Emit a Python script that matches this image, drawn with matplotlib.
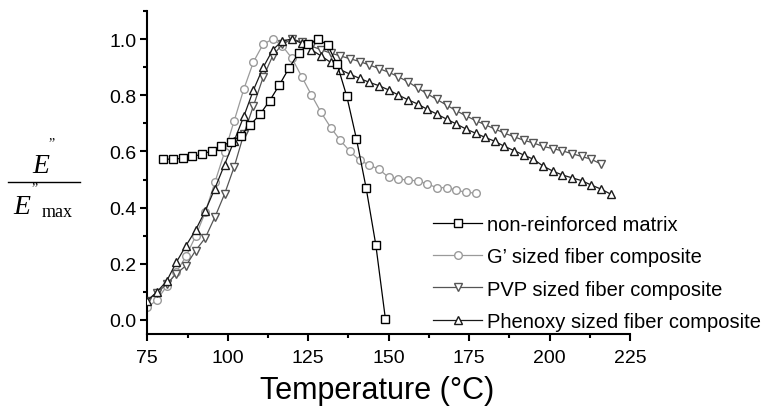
import matplotlib
matplotlib.use("Agg")
import matplotlib.pyplot as plt
from matplotlib.ticker import MultipleLocator
from matplotlib.lines import Line2D

plt.rcParams['font.family'] = ['Liberation Sans', 'DejaVu Sans']

# non-reinforced matrix (squares)
temp_matrix = [80, 83, 86, 89, 92, 95, 98, 101, 104, 107, 110, 113, 116, 119,
               122, 125, 128, 131, 134, 137, 140, 143, 146, 149]
e_matrix = [0.573, 0.572, 0.576, 0.582, 0.590, 0.602, 0.618, 0.635, 0.656, 0.694,
            0.732, 0.780, 0.836, 0.896, 0.950, 0.982, 1.000, 0.979, 0.910, 0.796,
            0.644, 0.470, 0.268, 0.003]

# G' sized fiber composite (circles)
temp_g = [75, 78, 81, 84, 87, 90, 93, 96, 99, 102, 105, 108, 111, 114, 117, 120,
          123, 126, 129, 132, 135, 138, 141, 144, 147, 150, 153, 156, 159, 162,
          165, 168, 171, 174, 177]
e_g = [0.045, 0.071, 0.120, 0.170, 0.226, 0.298, 0.383, 0.490, 0.597, 0.709,
       0.822, 0.919, 0.982, 1.000, 0.975, 0.931, 0.866, 0.801, 0.739, 0.685,
       0.639, 0.600, 0.568, 0.552, 0.536, 0.508, 0.503, 0.497, 0.496, 0.484,
       0.471, 0.471, 0.463, 0.454, 0.452]

# PVP sized fiber composite (down triangles)
temp_pvp = [75, 78, 81, 84, 87, 90, 93, 96, 99, 102, 105, 108, 111, 114, 117, 120,
            123, 126, 129, 132, 135, 138, 141, 144, 147, 150, 153, 156, 159, 162,
            165, 168, 171, 174, 177, 180, 183, 186, 189, 192, 195, 198, 201, 204,
            207, 210, 213, 216]
e_pvp = [0.069, 0.097, 0.127, 0.165, 0.193, 0.247, 0.292, 0.366, 0.448, 0.545,
         0.662, 0.763, 0.864, 0.941, 0.982, 1.000, 0.990, 0.975, 0.962, 0.950,
         0.940, 0.930, 0.920, 0.908, 0.895, 0.882, 0.866, 0.848, 0.826, 0.805,
         0.785, 0.765, 0.745, 0.727, 0.710, 0.695, 0.680, 0.665, 0.652, 0.640,
         0.630, 0.618, 0.610, 0.602, 0.592, 0.582, 0.572, 0.555]

# Phenoxy sized fiber composite (up triangles)
temp_phx = [75, 78, 81, 84, 87, 90, 93, 96, 99, 102, 105, 108, 111, 114, 117, 120,
            123, 126, 129, 132, 135, 138, 141, 144, 147, 150, 153, 156, 159, 162,
            165, 168, 171, 174, 177, 180, 183, 186, 189, 192, 195, 198, 201, 204,
            207, 210, 213, 216, 219]
e_phx = [0.069, 0.100, 0.138, 0.205, 0.264, 0.320, 0.388, 0.468, 0.553, 0.638,
         0.725, 0.819, 0.899, 0.962, 0.994, 1.000, 0.985, 0.962, 0.940, 0.917,
         0.891, 0.875, 0.860, 0.846, 0.834, 0.819, 0.801, 0.784, 0.769, 0.750,
         0.733, 0.715, 0.698, 0.680, 0.665, 0.650, 0.636, 0.618, 0.603, 0.587,
         0.572, 0.548, 0.530, 0.516, 0.506, 0.496, 0.480, 0.466, 0.448]

labels = ["non-reinforced matrix", "G\u2019 sized fiber composite",
          "PVP sized fiber composite", "Phenoxy sized fiber composite"]

W, H = 771, 414
fig = plt.figure(figsize=(W / 100, H / 100), dpi=100)
ax = fig.add_axes([147.3 / W, 1 - 335 / H, (630 - 147.3) / W, (335 - 12) / H])

# open markers, thin connecting lines
ax.plot(temp_matrix, e_matrix, '-s', color='black', lw=0.9, ms=5.3,
        mfc='white', mec='black', mew=1.0, label=labels[0], zorder=5)
ax.plot(temp_g, e_g, '-o', color='#9a9a9a', lw=0.9, ms=5.5,
        mfc='white', mec='#9a9a9a', mew=1.0, label=labels[1], zorder=2)
ax.plot(temp_pvp, e_pvp, '-v', color='#555555', lw=0.9, ms=6.2,
        mfc='white', mec='#555555', mew=1.0, label=labels[2], zorder=3)
ax.plot(temp_phx, e_phx, '-^', color='#1a1a1a', lw=0.9, ms=6.2,
        mfc='white', mec='#1a1a1a', mew=1.0, label=labels[3], zorder=4)

ax.set_xlim(75, 225)
ax.set_ylim(-0.05, 1.1)
ax.xaxis.set_major_locator(MultipleLocator(25))
ax.xaxis.set_minor_locator(MultipleLocator(12.5))
ax.yaxis.set_minor_locator(MultipleLocator(0.1))
ax.set_yticks([0.0, 0.2, 0.4, 0.6, 0.8, 1.0])
ax.set_yticklabels(["0.0", "0.2", "0.4", "0.6", "0.8", "1.0"])

for side in ['top', 'right']:
    ax.spines[side].set_visible(False)
for side in ['left', 'bottom']:
    ax.spines[side].set_linewidth(1.5)
ax.tick_params(which='major', direction='out', length=5, width=1.5,
               labelsize=14)
ax.tick_params(axis='x', which='major', pad=6)
ax.tick_params(axis='y', which='major', pad=3)
ax.tick_params(which='minor', direction='out', length=3, width=1.5)

leg = ax.legend(loc='center left', bbox_to_anchor=(433 / W, 1 - 274 / H),
                bbox_transform=fig.transFigure, frameon=False, fontsize=14.5,
                numpoints=1, handlelength=2.45, handletextpad=0.25,
                labelspacing=0.65, borderpad=0, borderaxespad=0)

# x label
fig.text(377 / W, 1 - 391 / H, "Temperature (\u00b0C)", fontsize=22,
         ha='center', va='center')

# y label drawn as a fraction E''/E''max
serif = ['Liberation Serif', 'DejaVu Serif']
fig.text(41 / W, 1 - 167 / H, "E", family=serif, style='italic', fontsize=20,
         ha='center', va='center')
fig.text(51 / W, 1 - 144 / H, "\u201d", family=serif, fontsize=10,
         ha='center', va='center')
fig.add_artist(Line2D([8 / W, 80 / W], [1 - 183 / H, 1 - 183 / H],
                      color='black', lw=1.0))
fig.text(22 / W, 1 - 208 / H, "E", family=serif, style='italic', fontsize=20,
         ha='center', va='center')
fig.text(34 / W, 1 - 189 / H, "\u201d", family=serif, fontsize=10,
         ha='center', va='center')
fig.text(42 / W, 1 - 217 / H, "max", family=serif, fontsize=13,
         ha='left', va='baseline')

fig.savefig("out.png", dpi=100)
